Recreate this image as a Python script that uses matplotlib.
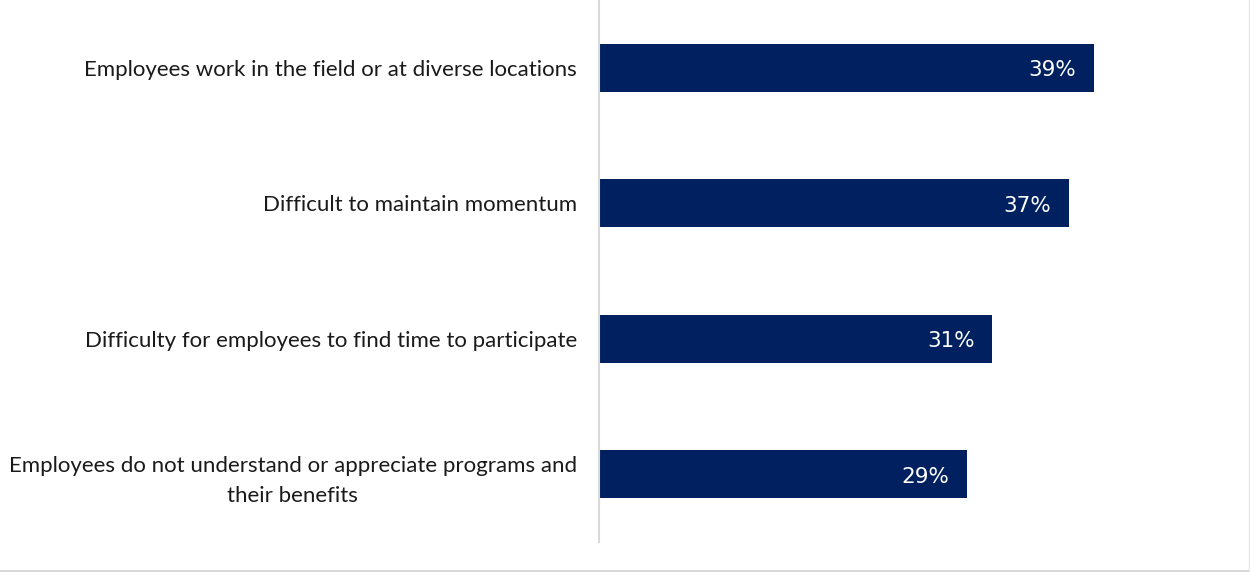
import matplotlib.pyplot as plt
from matplotlib.lines import Line2D

categories = [
    "Employees work in the field or at diverse locations",
    "Difficult to maintain momentum",
    "Difficulty for employees to find time to participate",
    "Employees do not understand or appreciate programs and\ntheir benefits",
]
values = [39, 37, 31, 29]
value_labels = ["39%", "37%", "31%", "29%"]

plt.rcParams['font.family'] = ['Lato', 'DejaVu Sans']

fig = plt.figure(figsize=(12.5, 5.72), dpi=100)
ax = fig.add_axes([599 / 1250, 30 / 572, 1 - 599 / 1250, 542 / 572])

ypos = list(range(len(categories)))
ax.barh(ypos, values, height=0.356, color="#002060")
ax.set_ylim(len(categories) - 0.5, -0.5)
ax.set_xlim(0, 51.3)

for y, v, lab in zip(ypos, values, value_labels):
    ax.text(v - 1.4, y + 0.02, lab, color="white", fontsize=15.5, ha="right",
            va="center", family="DejaVu Sans")

ax.set_yticks(ypos)
ax.set_yticklabels(categories, fontsize=16, color="#1a1a1a", ha="right",
                   multialignment="center", linespacing=1.6)
ax.tick_params(axis="y", length=0, pad=16)
ax.set_xticks([])
for s in ["top", "right", "bottom"]:
    ax.spines[s].set_visible(False)
ax.spines["left"].set_color("#d9d9d9")
ax.spines["left"].set_linewidth(1.5)

# outer frame lines (bottom and right)
fig.add_artist(Line2D([0, 1], [1.5 / 572, 1.5 / 572], color="#d9d9d9", lw=1.5))
fig.add_artist(Line2D([1248.5 / 1250, 1248.5 / 1250], [0, 1], color="#e6e6e6", lw=1))

fig.savefig("out.png", dpi=100)
